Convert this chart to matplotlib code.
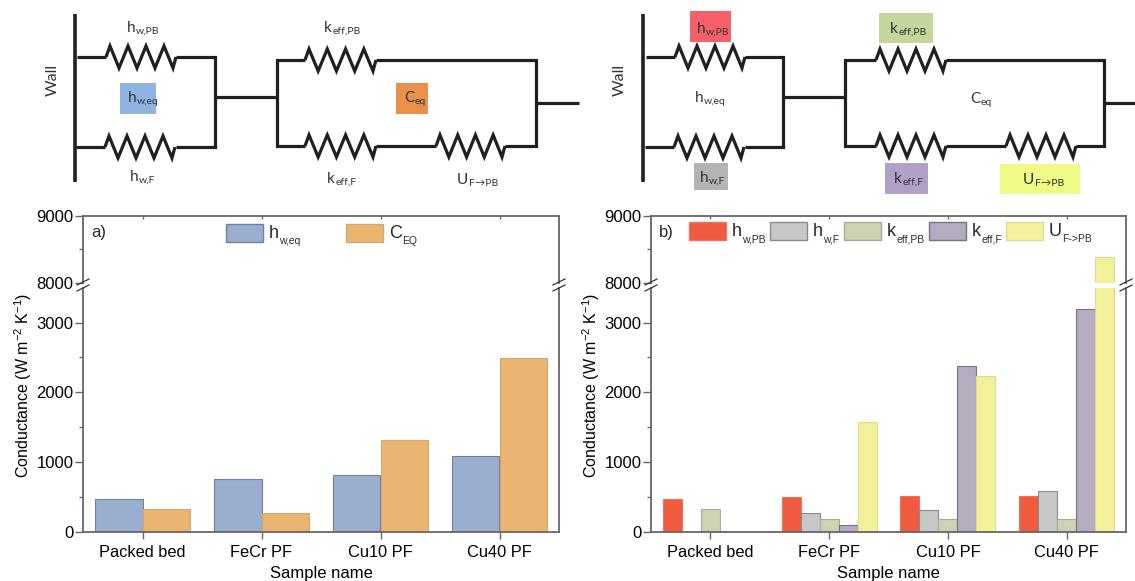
import numpy as np
import matplotlib
matplotlib.use('Agg')
import matplotlib.pyplot as plt
from matplotlib.patches import Rectangle

W, H = 1135, 581

samples = ['Packed bed', 'FeCr PF', 'Cu10 PF', 'Cu40 PF']

# panel a
h_w_eq = [470, 750, 810, 1080]
c_eq = [330, 260, 1320, 2490]

# panel b
h_w_pb = [470, 490, 505, 510]
h_w_f = [0, 260, 305, 580]
k_eff_pb = [330, 180, 180, 180]
k_eff_f = [0, 95, 2380, 3200]
u_f_pb = [0, 1570, 2230, 8390]

low_ticks = [0, 1000, 2000, 3000]
high_ticks = [8000, 9000]

GREY = '#666666'
SK_FONT = ['Lato', 'DejaVu Sans']

plt.rcParams['font.family'] = ['Liberation Sans', 'DejaVu Sans']
plt.rcParams['mathtext.default'] = 'regular'
plt.rcParams['font.size'] = 12
plt.rcParams['text.color'] = '#2a2a2a'
plt.rcParams['axes.edgecolor'] = GREY
plt.rcParams['axes.linewidth'] = 1.3

fig = plt.figure(figsize=(W / 100, H / 100), dpi=100)
renderer = fig.canvas.get_renderer()


def axes_px(x0, y0, x1, y1, **kw):
    return fig.add_axes([x0 / W, 1 - y1 / H, (x1 - x0) / W, (y1 - y0) / H], **kw)


# overlay in pixel coordinates for schematics, legends and break marks
sk = fig.add_axes([0, 0, 1, 1], zorder=5)
sk.set_xlim(0, W)
sk.set_ylim(H, 0)
sk.axis('off')
sk.patch.set_alpha(0)
LINE = '#231F20'


def sub_text(x, y, main, sub, fs, sub_fs, drop, color='#333333', family=None):
    t = sk.text(x, y, main, fontsize=fs, ha='left', va='baseline', color=color, family=family)
    x1 = t.get_window_extent(renderer).x1
    sk.text(x1 + 0.5, y + drop, sub, fontsize=sub_fs, ha='left', va='baseline', color=color,
            family=family)


def legend_entry(x, y, color, edge, main, sub):
    sk.add_patch(Rectangle((x, y), 36.5, 17.5, facecolor=color, edgecolor=edge, lw=1))
    sub_text(x + 43, y + 14.5, main, sub, 13, 7.5, 6, color='#2a2a2a')


def panel(x0, x1, series, colors, edges, width, tag):
    low = axes_px(x0, 288, x1, 531.5)
    high = axes_px(x0, 215.5, x1, 283)
    low.set_ylim(0, 3497)
    high.set_ylim(8000, 9000)
    x = np.arange(len(samples))
    n = len(series)
    for i, vals in enumerate(series):
        pos = x + (i - (n - 1) / 2) * width
        low.bar(pos, vals, width, color=colors[i], edgecolor=edges[i], linewidth=0.8)
        high.bar(pos, vals, width, color=colors[i], edgecolor=edges[i], linewidth=0.8)
    for ax in (low, high):
        ax.set_xlim(-0.5, 3.5)
        ax.set_xticks(x)
        ax.tick_params(axis='y', which='major', length=6, width=1, color=GREY, pad=1,
                       labelsize=12)
        ax.tick_params(axis='y', which='minor', length=3, width=1, color=GREY)
    low.set_xticklabels(samples, fontsize=11.8)
    low.tick_params(axis='x', length=5, width=1, color=GREY, pad=5)
    low.set_yticks(low_ticks)
    low.set_yticks([500, 1500, 2500], minor=True)
    low.spines['top'].set_visible(False)
    high.spines['bottom'].set_visible(False)
    high.set_yticks(high_ticks)
    high.set_yticks([8500], minor=True)
    high.tick_params(axis='x', top=True, bottom=False, labelbottom=False, direction='in',
                     length=2, width=1, color=GREY)
    low.set_xlabel('Sample name', fontsize=12, labelpad=4)
    low.set_ylabel('Conductance (W m$^{-2}$ K$^{-1}$)', fontsize=11.5)
    low.yaxis.set_label_coords((34 - 83) / 476, 0.6)
    high.text(0.017, 0.75, tag, transform=high.transAxes, fontsize=12, va='center')
    # axis break marks, both sides
    for side in (x0, x1):
        for y in (282, 288):
            sk.plot([side - 6, side + 6], [y + 3, y - 3], color='#333333', lw=0.9)


a_colors = ['#9AAFCF', '#E9B571']
a_edges = ['#6F7F9C', '#CFA872']
b_colors = ['#F05A3F', '#C6C7C9', '#CBD3B3', '#B5ADBF', '#F2F19A']
b_edges = ['#E8765F', '#8A8A8A', '#A8AE94', '#77717E', '#DCDB94']

panel(83, 559, [h_w_eq, c_eq], a_colors, a_edges, 0.4, 'a)')
panel(651, 1126, [h_w_pb, h_w_f, k_eff_pb, k_eff_f, u_f_pb], b_colors, b_edges, 0.16, 'b)')

legend_entry(226, 224, a_colors[0], a_edges[0], 'h', 'w,eq')
legend_entry(346, 224, a_colors[1], a_edges[1], 'C', 'EQ')
legend_entry(689, 222, b_colors[0], b_edges[0], 'h', 'w,PB')
legend_entry(770, 222, b_colors[1], b_edges[1], 'h', 'w,F')
legend_entry(844, 222, b_colors[2], b_edges[2], 'k', 'eff,PB')
legend_entry(929, 222, b_colors[3], b_edges[3], 'k', 'eff,F')
legend_entry(1006, 222, b_colors[4], b_edges[4], 'U', 'F->PB')


def wire(xs, ys, lw=2.3):
    sk.plot(xs, ys, color=LINE, lw=lw, solid_capstyle='butt', solid_joinstyle='miter')


def resistor(x0, x1, y):
    step = (x1 - x0 - 7) / 7
    xs = [x0] + [x0 + 4 + i * step for i in range(8)] + [x1]
    ys = [y] + [y - 11 if i % 2 == 0 else y + 11 for i in range(8)] + [y]
    wire(xs, ys)


def label(x, y, main, sub):
    sub_text(x, y, main, sub, 11, 7.5, 2, family=SK_FONT)


def box(x0, y0, x1, y1, c):
    sk.add_patch(Rectangle((x0, y0), x1 - x0, y1 - y0, color=c, lw=0, zorder=1))


# left circuit
wire([75, 75], [14, 182], lw=2.6)
wire([77, 106], [57, 57])
resistor(106, 176, 57)
wire([176, 214.5, 214.5, 176], [57, 57, 146.5, 146.5])
wire([76, 105], [147, 147])
resistor(105, 175, 147)
wire([214, 277], [97, 97])
wire([305, 277, 277, 305], [60, 60, 146, 146])
resistor(305, 376, 60)
resistor(305, 376, 146)
wire([376, 536, 536, 505], [60, 60, 146, 146])
wire([376, 436], [146, 146])
resistor(436, 505, 146)
wire([536, 579], [103, 103])

box(120, 83, 156, 114, '#8EB4E3')
box(396, 83, 428, 114, '#E8914A')
label(127, 32, 'h', 'w,PB')
label(128, 102, 'h', 'w,eq')
label(130, 181, 'h', 'w,F')
label(324, 32, 'k', 'eff,PB')
label(404, 102, 'C', 'eq')
label(327, 183, 'k', 'eff,F')
label(457, 184, 'U', 'F\u2192PB')
sk.text(53, 80, 'Wall', fontsize=11.5, rotation=90, ha='center', va='center', color='#333333',
        family=SK_FONT)

# right circuit
wire([643, 643], [14, 182], lw=2.6)
wire([646, 675], [57, 57])
resistor(675, 745, 57)
wire([745, 783, 783, 745], [57, 57, 146.5, 146.5])
wire([645, 674], [147, 147])
resistor(674, 744, 147)
wire([783, 845], [97, 97])
wire([876, 845, 845, 876], [60, 60, 146, 146])
resistor(876, 946, 60)
resistor(876, 946, 146)
wire([946, 1104, 1104, 1076], [60, 60, 146, 146])
wire([946, 1006], [146, 146])
resistor(1006, 1076, 146)
wire([1104, 1135], [103, 103])

box(690, 11, 731, 42, '#F5606A')
box(879, 13, 933, 43, '#C3D69B')
box(694, 163, 728, 190, '#B3B3B3')
box(885, 163, 928, 194, '#B1A0C7')
box(1000, 164, 1080, 194, '#EEFA84')
label(697, 33, 'h', 'w,PB')
label(695, 102, 'h', 'w,eq')
label(700, 182, 'h', 'w,F')
label(890, 33, 'k', 'eff,PB')
label(970, 103, 'C', 'eq')
label(894, 183, 'k', 'eff,F')
label(1023, 184, 'U', 'F\u2192PB')
sk.text(620, 80, 'Wall', fontsize=11.5, rotation=90, ha='center', va='center', color='#333333',
        family=SK_FONT)

fig.savefig('out.png', dpi=100)
